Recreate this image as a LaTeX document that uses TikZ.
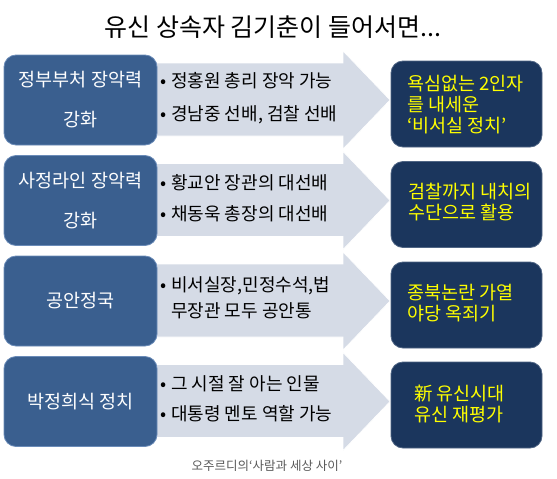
\documentclass[tikz,border=0pt]{standalone}
\usepackage{fontspec}
\setmainfont{Noto Sans CJK KR}
\definecolor{lbox}{HTML}{3A5F8F}
\definecolor{lborder}{HTML}{6A8BB8}
\definecolor{rbox}{HTML}{1B365D}
\definecolor{rborder}{HTML}{4F6584}
\definecolor{arrowfill}{HTML}{D5DBE6}
\definecolor{yel}{HTML}{FFFF00}
\newcommand\bul{\makebox[11pt][l]{•}}
\tikzset{
  leftbox/.style={draw=lborder, line width=0.8pt, fill=lbox, rounded corners=12pt,
    minimum width=153pt, minimum height=90pt, inner sep=0pt, text=white,
    align=center, font=\fontsize{18.5}{40}\selectfont},
  rightbox/.style={draw=rborder, line width=0.8pt, fill=rbox, rounded corners=12pt,
    minimum width=151pt, minimum height=86pt, inner sep=0pt},
  righttext/.style={anchor=west, text=yel, align=left, inner sep=0pt,
    font=\fontsize{18.5}{21}\selectfont},
  bullets/.style={anchor=west, text=black, align=left, inner sep=0pt},
  bigarrow/.style={fill=arrowfill, draw=white, line width=0.6pt}
}
\begin{document}
\begin{tikzpicture}[x=1pt,y=-1pt]
\useasboundingbox[fill=white] (0,0) rectangle (557,479);
\node (title) at (273,27) {\fontsize{25}{25}\selectfont 유신 상속자 김기춘이 들어서면...};
% arrows
\foreach \o in {0,100.5,201,301.5}{
  \path[bigarrow] (150,63+\o) -- (343,63+\o) -- (343,51+\o) -- (390,100+\o)
     -- (343,149+\o) -- (343,136+\o) -- (150,136+\o) -- cycle;
}
% row 1
\node[leftbox] (l1) at (80.5,100) {정부부처 장악력\\강화};
\node[bullets, font=\fontsize{18}{33}\selectfont] (b1) at (160,98.5) {\bul 정홍원 총리 장악 가능\\\bul 경남중 선배, 검찰 선배};
\node[rightbox] (r1) at (466.5,104) {};
\node[righttext] (t1) at (407,105) {욕심없는 2인자\\를 내세운\\‘비서실 정치’};
% row 2
\node[leftbox] (l2) at (80.5,200.5) {사정라인 장악력\\강화};
\node[bullets, font=\fontsize{18}{31}\selectfont] (b2) at (160,198.5) {\bul 황교안 장관의 대선배\\\bul 채동욱 총장의 대선배};
\node[rightbox] (r2) at (466.5,204.5) {};
\node[righttext] (t2) at (408,202) {검찰까지 내치의\\수단으로 활용};
% row 3
\node[leftbox] (l3) at (80.5,301) {공안정국};
\node[bullets, font=\fontsize{18}{26}\selectfont] (b3) at (160,298) {\bul 비서실장,민정수석,법\\\hspace*{11pt}무장관 모두 공안통};
\node[rightbox] (r3) at (466.5,305) {};
\node[righttext] (t3) at (407,303.5) {종북논란 가열\\야당 옥죄기};
% row 4
\node[leftbox] (l4) at (80.5,401.5) {\raisebox{-6pt}{박정희식 정치}};
\node[bullets, font=\fontsize{18}{30}\selectfont] (b4) at (160,399) {\bul 그 시절 잘 아는 인물\\\bul 대통령 멘토 역할 가능};
\node[rightbox] (r4) at (466.5,405) {};
\node[righttext] (t4) at (414,404) {新 유신시대\\유신 재평가};
% caption
\node[text=black!65, font=\fontsize{12.5}{14}\selectfont] (cap) at (267,466) {오주르디의‘사람과 세상 사이’};
\end{tikzpicture}
\end{document}
